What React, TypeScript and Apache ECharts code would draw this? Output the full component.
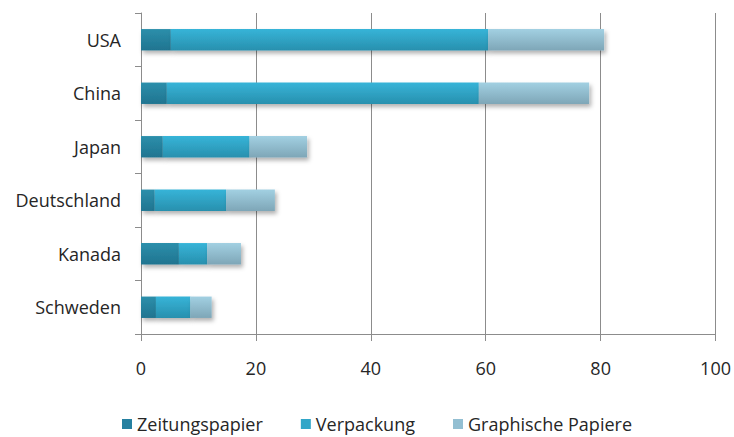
import React, { useEffect, useRef } from "react";
import * as echarts from "echarts";

const categories = ["USA", "China", "Japan", "Deutschland", "Kanada", "Schweden"];
const zeitungspapier = [5.2, 4.5, 3.8, 2.4, 6.6, 2.6];
const verpackung = [55.2, 54.3, 15.1, 12.4, 4.9, 6.0];
const graphische = [20.2, 19.2, 10.0, 8.5, 5.9, 3.7];
const xTicks = [0, 20, 40, 60, 80, 100];

const FONT = "'Open Sans', sans-serif";

function grad(top: string, bottom: string) {
  return new echarts.graphic.LinearGradient(0, 0, 0, 1, [
    { offset: 0, color: top },
    { offset: 1, color: bottom },
  ]);
}

export default function App() {
  const ref = useRef<HTMLDivElement>(null);
  useEffect(() => {
    if (!ref.current) return;
    const chart = echarts.init(ref.current, undefined, { renderer: "svg" });
    const shadow = {
      shadowColor: "rgba(0,0,0,0.3)",
      shadowBlur: 4,
      shadowOffsetX: 2,
      shadowOffsetY: 3,
    };
    const mk = (name: string, data: number[], top: string, bottom: string, legendColor: string) => ({
      name,
      type: "bar",
      stack: "total",
      barWidth: "40%",
      data,
      itemStyle: { color: grad(top, bottom), ...shadow },
      emphasis: { disabled: true },
      legendColor,
    });
    const series = [
      mk("Zeitungspapier", zeitungspapier, "#2d8fab", "#1f7490", "#2680a0"),
      mk("Verpackung", verpackung, "#37b4d8", "#2890ae", "#31a6c8"),
      mk("Graphische Papiere", graphische, "#a2d0e2", "#7ea6b7", "#93bfd2"),
    ];
    chart.setOption({
      animation: false,
      backgroundColor: "#ffffff",
      textStyle: { fontFamily: FONT },
      grid: { left: 141, right: 17, top: 13, bottom: 103, containLabel: false },
      legend: {
        top: 410,
        left: 122,
        padding: 0,
        itemWidth: 10,
        itemHeight: 10,
        itemGap: 38,
        icon: "rect",
        textStyle: { fontFamily: FONT, fontSize: 18, color: "#262626", lineHeight: 28 },
        data: series.map((s) => ({ name: s.name, itemStyle: { color: s.legendColor } })),
      },
      xAxis: {
        type: "value",
        min: 0,
        max: 100,
        interval: 20,
        axisLine: { show: true, lineStyle: { color: "#8c8c8c", width: 1 } },
        axisTick: { show: true, length: 7, lineStyle: { color: "#8c8c8c" } },
        axisLabel: {
          margin: 25,
          fontSize: 18,
          color: "#262626",
          fontFamily: FONT,
          formatter: (v: number) => (xTicks.includes(v) ? String(v) : ""),
        },
        splitLine: { show: true, lineStyle: { color: "#8c8c8c", width: 1 } },
      },
      yAxis: {
        type: "category",
        inverse: true,
        data: categories,
        axisLine: { show: true, lineStyle: { color: "#8c8c8c", width: 1 } },
        axisTick: { show: true, length: 6, lineStyle: { color: "#8c8c8c" } },
        axisLabel: { margin: 20, fontSize: 18, color: "#262626", fontFamily: FONT },
      },
      series: series.map(({ legendColor, ...s }) => s),
    });
    return () => chart.dispose();
  }, []);
  return <div ref={ref} style={{ width: 734, height: 437, position: "absolute", left: 0, top: 0 }} />;
}
